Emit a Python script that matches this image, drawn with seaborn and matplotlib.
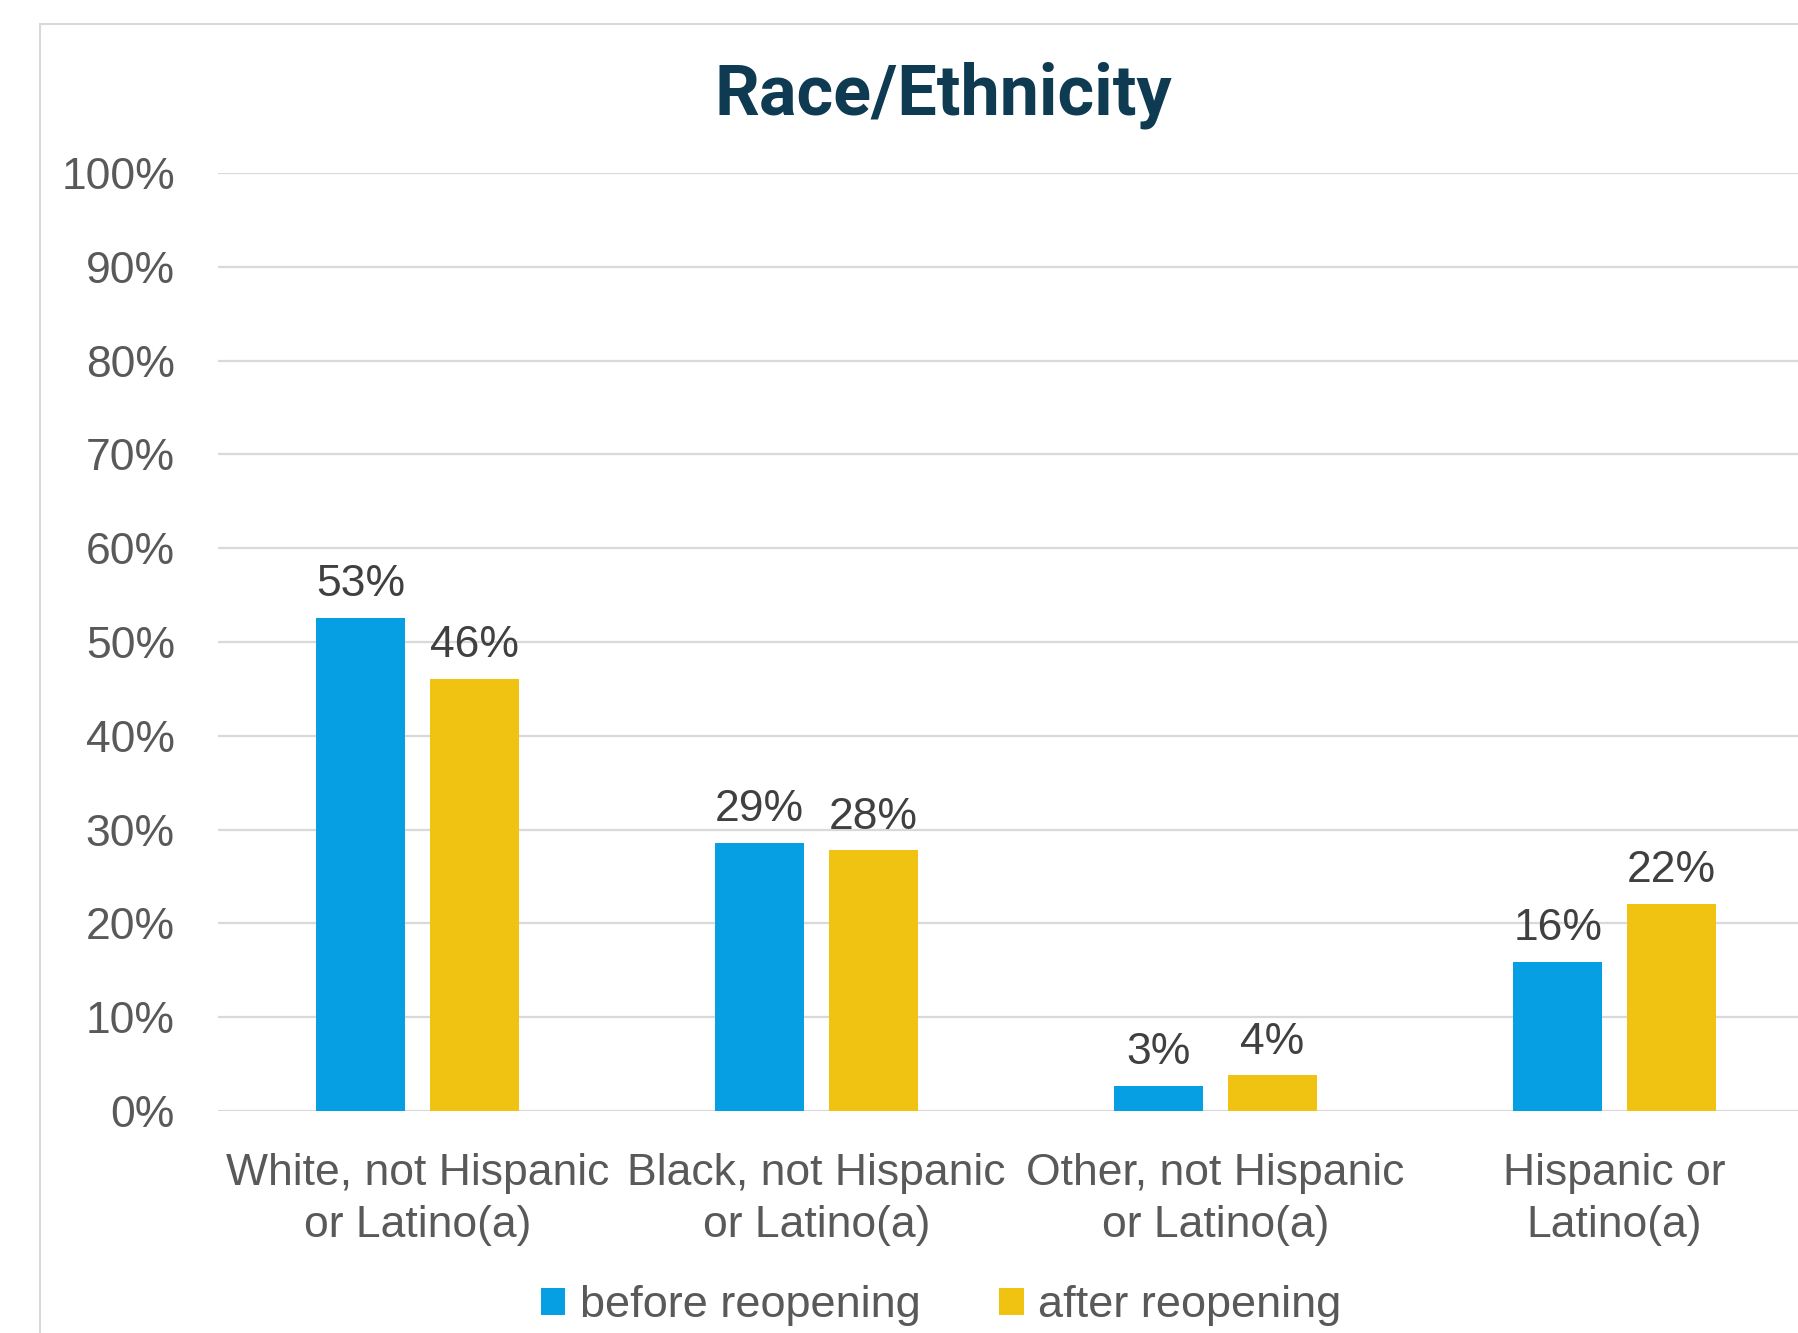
import matplotlib
matplotlib.use("Agg")
import matplotlib.pyplot as plt
from matplotlib.patches import Rectangle
import seaborn as sns
import pandas as pd

categories = ["White, not Hispanic\nor Latino(a)", "Black, not Hispanic\nor Latino(a)",
              "Other, not Hispanic\nor Latino(a)", "Hispanic or\nLatino(a)"]
before_values = [52.6, 28.6, 2.7, 15.9]
after_values = [46.1, 27.8, 3.8, 22.1]
series_names = ["before reopening", "after reopening"]
series_colors = ["#069FE4", "#F0C313"]
y_ticks = [0, 10, 20, 30, 40, 50, 60, 70, 80, 90, 100]
y_tick_labels = [f"{t}%" for t in y_ticks]
title = "Race/Ethnicity"

df = pd.DataFrame({
    "category": categories * 2,
    "period": [series_names[0]] * 4 + [series_names[1]] * 4,
    "value": before_values + after_values,
})

sns.set_theme(style="white")
plt.rcParams["font.family"] = ["Liberation Sans", "DejaVu Sans"]

W, H = 1799, 1333
fig = plt.figure(figsize=(W / 100, H / 100), dpi=100)
fig.patch.set_facecolor("white")

ax_left, ax_right = 218, 1814
ax_top, ax_bottom = 173, 1111
ax = fig.add_axes([ax_left / W, 1 - ax_bottom / H, (ax_right - ax_left) / W, (ax_bottom - ax_top) / H])

sns.barplot(data=df, x="category", y="value", hue="period", order=categories,
            hue_order=series_names, palette=dict(zip(series_names, series_colors)),
            width=0.57, gap=0.22, saturation=1, edgecolor="none", linewidth=0,
            ax=ax, legend=True, zorder=3)

ax.set_ylim(0, 100)
ax.set_xlim(-0.5, 3.5)
ax.set_yticks(y_ticks)
ax.set_yticklabels(y_tick_labels)
ax.yaxis.grid(True, color="#D9D9D9", linewidth=1.6, zorder=0)
ax.xaxis.grid(False)
ax.set_axisbelow(True)
for s in ax.spines.values():
    s.set_visible(False)
ax.set_xlabel("")
ax.set_ylabel("")
ax.tick_params(axis="y", length=0, pad=31, labelsize=32, labelcolor="#595959")
ax.tick_params(axis="x", length=0, pad=30, labelsize=32, labelcolor="#595959")
for lbl in ax.get_xticklabels():
    lbl.set_linespacing(1.36)

for cont, vals in zip(ax.containers, [before_values, after_values]):
    ax.bar_label(cont, labels=[f"{round(v)}%" for v in vals], padding=9,
                 fontsize=32, color="#404040")

handles, labels = ax.get_legend_handles_labels()
if ax.legend_:
    ax.legend_.remove()
leg = fig.legend(handles, labels, loc="center", bbox_to_anchor=(941 / W, 1 - 1306 / H),
                 ncol=2, frameon=False, fontsize=32.5, handlelength=0.54, handleheight=0.56,
                 handletextpad=0.32, columnspacing=1.75, borderaxespad=0, borderpad=0)
for t in leg.get_texts():
    t.set_color("#595959")

fig.text(943 / W, 1 - 95 / H, title, ha="center", va="center", fontsize=50.5,
         fontweight="bold", color="#0E3A52", family=["Roboto", "DejaVu Sans"])

frame = Rectangle((40 / W, -0.05), 1.1, 1.05 - 24 / H, transform=fig.transFigure,
                  facecolor="none", edgecolor="#D9D9D9", linewidth=1.5, clip_on=False)
fig.add_artist(frame)

fig.savefig("out.png", dpi=100, facecolor="white")
